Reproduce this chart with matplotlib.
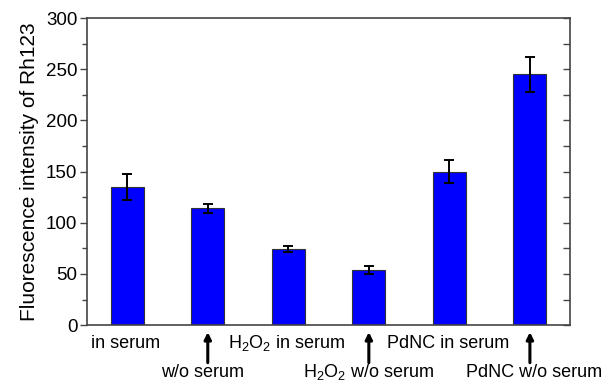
import matplotlib
matplotlib.use('Agg')
import matplotlib.pyplot as plt
from matplotlib.ticker import MultipleLocator

plt.rcParams['font.family'] = ['Liberation Sans', 'DejaVu Sans']
plt.rcParams['mathtext.default'] = 'regular'

# data
groups = ['in serum', 'w/o serum', r'$H_2O_2$ in serum', r'$H_2O_2$ w/o serum',
          'PdNC in serum', 'PdNC w/o serum']
intensity = [135, 114, 74, 54, 150, 245]
errors = [13, 4, 3, 4, 11, 17]

fig = plt.figure(figsize=(6.04, 3.83), dpi=100)
ax = fig.add_axes([0.144, 0.151, 0.800, 0.802])

xs = list(range(len(groups)))
ax.bar(xs, intensity, width=0.41, color='#0000ff', edgecolor='#333333', linewidth=0.8)
ax.errorbar(xs, intensity, yerr=errors, fmt='none', ecolor='black',
            elinewidth=1.4, capsize=3.5, capthick=1.4)

ax.set_xlim(-0.5, 5.5)
ax.set_ylim(0, 300)
ax.yaxis.set_major_locator(MultipleLocator(50))
ax.yaxis.set_minor_locator(MultipleLocator(25))
ax.set_xticks([])
ax.tick_params(axis='y', which='major', direction='out', length=5, width=1,
               labelsize=13.5, right=True, color='#444444', pad=2)
ax.tick_params(axis='y', which='minor', direction='out', length=3.5, width=1,
               right=True, color='#444444')
# right side ticks point inward
for t in ax.yaxis.get_major_ticks() + ax.yaxis.get_minor_ticks():
    t.tick2line.set_marker(matplotlib.lines.TICKLEFT)
    t.tick2line.set_markersize(5)
for s in ax.spines.values():
    s.set_linewidth(1.2)
    s.set_color('#444444')

ax.set_ylabel('Fluorescence intensity of Rh123', fontsize=15, labelpad=5)

# category labels under the axis, alternating rows with arrows
low_dx = [0, -4, 0, 0, 0, 3]
for i, name in enumerate(groups):
    if i % 2 == 0:
        ax.annotate(name, xy=(i, 0), xycoords=('data', 'axes fraction'),
                    xytext=(-1, -13), textcoords='offset points',
                    ha='center', va='center', fontsize=13)
    else:
        ax.annotate('', xy=(i, 0), xycoords=('data', 'axes fraction'),
                    xytext=(0, -27), textcoords='offset points',
                    arrowprops=dict(arrowstyle='-|>', color='black', lw=2.2,
                                    mutation_scale=10, shrinkA=0, shrinkB=5))
        ax.annotate(name, xy=(i, 0), xycoords=('data', 'axes fraction'),
                    xytext=(low_dx[i], -34), textcoords='offset points',
                    ha='center', va='center', fontsize=13)

fig.savefig('out.png', dpi=100)
